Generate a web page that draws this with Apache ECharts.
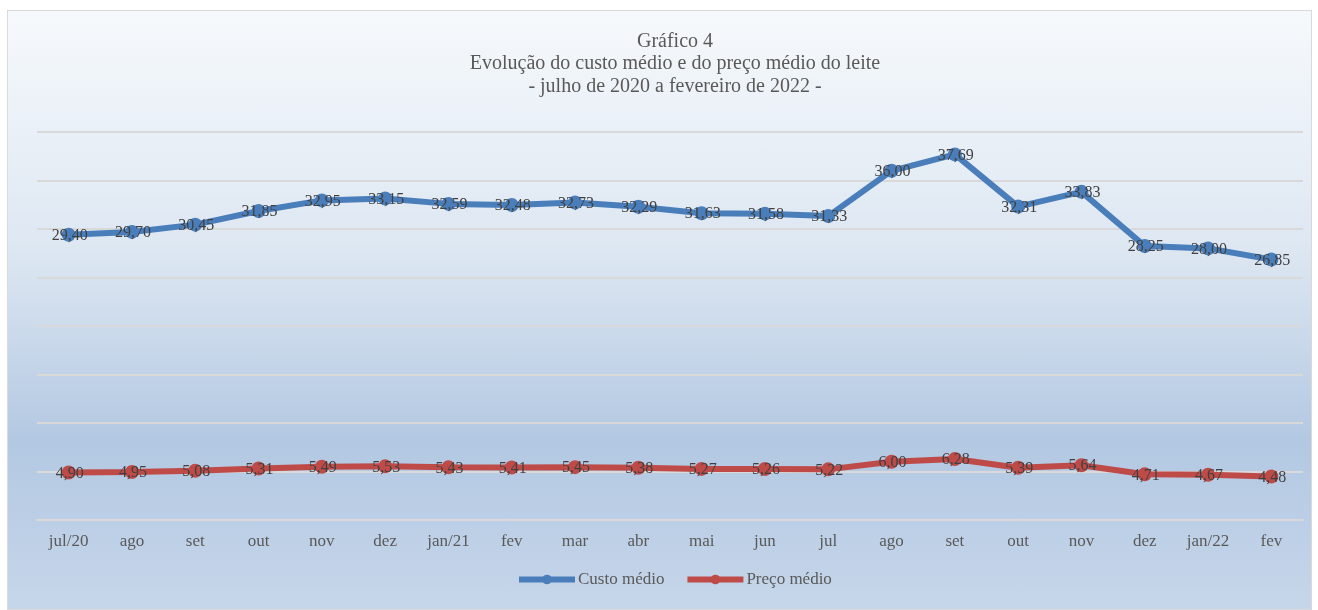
<!DOCTYPE html>
<html>
<head>
<meta charset="utf-8">
<script src="https://cdn.jsdelivr.net/npm/echarts@6/dist/echarts.min.js"></script>
<style>
    html, body { margin: 0; padding: 0; background: #fff; }
    .panel {
        position: absolute; left: 7px; top: 10px; width: 1303px; height: 598px;
        border: 1px solid #d9d9d9;
        background: linear-gradient(to bottom, #f6f9fc 0%, #dde7f2 40%, #b3c8e2 72%, #c6d6ea 100%);
    }
    .panel-chart { width: 100%; height: 100%; }
</style>
</head>
<body>
<div class="panel"><div class="panel-chart"></div></div>
<script>
var meses = ["jul/20", "ago", "set", "out", "nov", "dez", "jan/21", "fev", "mar", "abr",
    "mai", "jun", "jul", "ago", "set", "out", "nov", "dez", "jan/22", "fev"];
var custoMedio = [29.40, 29.70, 30.45, 31.85, 32.95, 33.15, 32.59, 32.48, 32.73, 32.29,
    31.63, 31.58, 31.33, 36.00, 37.69, 32.31, 33.83, 28.25, 28.00, 26.85];
var precoMedio = [4.90, 4.95, 5.08, 5.31, 5.49, 5.53, 5.43, 5.41, 5.45, 5.38,
    5.27, 5.26, 5.22, 6.00, 6.28, 5.39, 5.64, 4.71, 4.67, 4.48];

var fonte = "'Liberation Serif', 'DejaVu Serif', serif";

(function () {
    var mycharts = echarts.init(document.querySelector('.panel-chart'));
    // rótulo com vírgula decimal
    function rotulo(p) {
        return p.value.toFixed(2).replace('.', ',');
    }
    var option = {
        title: {
            text: 'Gráfico 4\nEvolução do custo médio e do preço médio do leite\n- julho de 2020 a fevereiro de 2022 -',
            left: 662,
            textAlign: 'center',
            top: 14,
            textStyle: {
                fontFamily: fonte,
                fontWeight: 'normal',
                fontSize: 20,
                lineHeight: 22.5,
                color: '#595959'
            }
        },
        legend: {
            bottom: 16,
            left: 503,
            itemWidth: 56,
            itemHeight: 12,
            itemGap: 20,
            lineStyle: { width: 6 },
            textStyle: { fontFamily: fonte, fontSize: 17, color: '#595959', padding: [0, 0, 0, -2] },
            data: ['Custo médio', 'Preço médio']
        },
        grid: {
            top: 121,
            left: 29,
            right: 8,
            bottom: 89
        },
        xAxis: {
            type: 'category',
            data: meses,
            boundaryGap: true,
            axisTick: { show: false },
            axisLine: { lineStyle: { color: '#d9d9d9', width: 2 } },
            axisLabel: {
                fontFamily: fonte,
                fontSize: 17,
                color: '#595959',
                margin: 13
            }
        },
        yAxis: {
            type: 'value',
            min: 0,
            max: 40,
            interval: 5,
            axisLabel: { show: false },
            axisLine: { show: false },
            axisTick: { show: false },
            splitLine: { lineStyle: { color: '#d9d9d9', width: 2 } }
        },
        series: [
            {
                name: 'Custo médio',
                type: 'line',
                data: custoMedio,
                symbol: 'circle',
                symbolSize: 14,
                color: '#4a7ebb',
                lineStyle: { width: 6, color: '#4a7ebb' },
                label: {
                    show: true,
                    position: 'inside',
                    offset: [1, 1],
                    formatter: rotulo,
                    fontFamily: fonte,
                    fontSize: 16,
                    color: '#404040'
                }
            },
            {
                name: 'Preço médio',
                type: 'line',
                data: precoMedio,
                symbol: 'circle',
                symbolSize: 14,
                color: '#be4b48',
                lineStyle: { width: 6, color: '#be4b48' },
                label: {
                    show: true,
                    position: 'inside',
                    offset: [1, 1],
                    formatter: rotulo,
                    fontFamily: fonte,
                    fontSize: 16,
                    color: '#404040'
                }
            }
        ]
    };
    mycharts.setOption(option);
    window.addEventListener('resize', function () {
        mycharts.resize();
    })
})();
</script>
</body>
</html>
